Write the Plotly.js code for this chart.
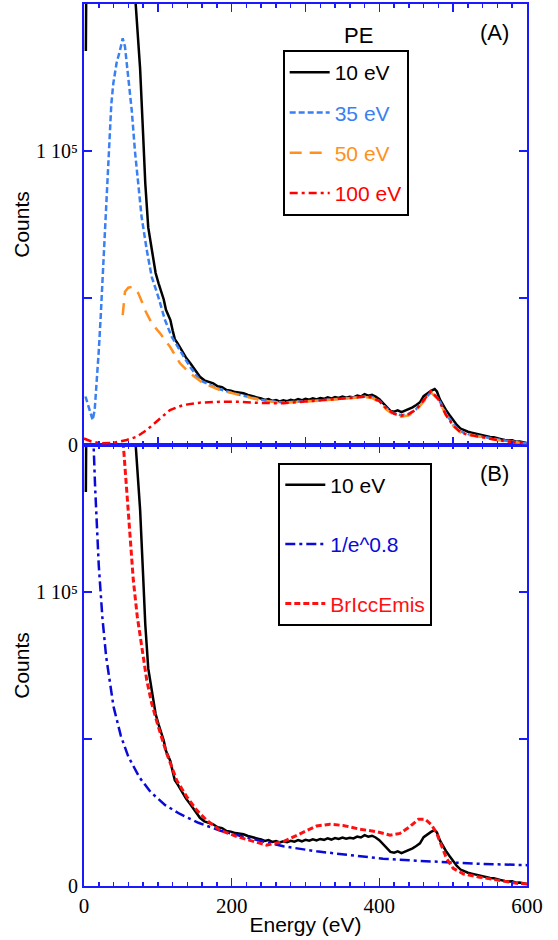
<!DOCTYPE html>
<html>
<head>
<meta charset="utf-8">
<script src="https://cdn.plot.ly/plotly-3.0.1.min.js"></script>
<style>html,body{margin:0;padding:0;background:#fff;}#chart{width:558px;height:940px;}</style>
</head>
<body>
<div id="chart"></div>
<script>
// ---- Data ----
// 10 eV primary energy (shared by panels A and B)
const energy10 = [2.5, 4, 20, 50, 65, 70, 76, 80, 83, 87, 92, 97, 101, 105, 108, 111, 114, 117, 120, 123, 127, 132, 138, 144, 150, 157, 163, 169, 175, 181, 187, 193, 199, 205, 211, 216, 222, 228, 234,
  240, 245, 250, 255, 260, 265, 270, 275, 280, 285, 290, 295, 300, 305, 310, 315, 320, 325, 330, 335, 340, 345, 350, 355, 360, 365, 370, 375, 380, 385, 390, 395,
  400, 405, 410, 415, 420, 425, 430, 435, 440, 445, 450, 455, 460, 465, 470, 475, 478, 482, 486, 490, 495,
  500, 505, 510, 515, 520, 525, 530, 535, 540, 545, 550, 555, 560, 565, 570, 575, 580, 585, 590, 595, 600];
const counts10 = [134000, 600000, 800000, 400000, 175000, 150000, 128000, 106000, 89000, 74000, 66000, 58500, 55000, 51600, 49500, 46000, 44500, 42500, 39000, 36000, 34500, 32300, 29800, 27800, 25500, 23200, 22000, 21500, 21000, 20000, 19700, 18700, 18500, 18000, 17800, 17600, 17000, 16700, 16200,
  15800, 15300, 15600, 15000, 15300, 14800, 15200, 14900, 15400, 15100, 15600, 15200, 15700, 15400, 15900, 15500, 16000, 15700, 16200, 15800, 16300, 16000, 16500, 16100, 16400, 16200, 16800, 16500, 17300, 16800, 17100, 16500,
  15600, 14300, 12800, 11600, 11300, 11800, 11200, 11700, 12300, 12800, 13600, 14500, 16600, 17600, 18400, 19000, 18200, 15500, 13500, 12000, 10200,
  8500, 6800, 5600, 5000, 4500, 4200, 3900, 3500, 3400, 3000, 2700, 2600, 2200, 2000, 1700, 1500, 1600, 1100, 1200, 900, 700];

// 35 eV
const energy35 = [2, 5, 9, 11.7, 14.5, 17.2, 20, 22.6, 25.5, 28.4, 31.3, 34.3, 37, 39.7, 44.2, 48.8, 52.4, 55.5, 60, 64.6, 69, 73.6, 78, 85, 91.7, 100.6, 109.7, 118.8, 130, 143.6, 157, 180, 202, 229,
  240, 250, 260, 270, 280, 290, 300, 310, 320, 330, 340, 350, 360, 370, 380, 390, 400, 410, 420, 430, 440, 450, 460, 470, 480, 490, 500, 510, 520, 530, 540, 550, 560, 570, 580, 590, 600];
const counts35 = [16500, 14000, 10000, 8500, 12000, 21000, 32000, 43600, 58000, 72000, 88000, 106000, 116000, 123000, 130000, 134300, 138300, 135500, 125000, 114000, 100000, 89000, 77600, 66300, 57200, 50400, 42500, 36800, 32300, 26600, 22000, 19300, 17600, 15900,
  15400, 15000, 14700, 14500, 14600, 14700, 14900, 15100, 15200, 15400, 15600, 15800, 15900, 16100, 16500, 16300, 15000, 12400, 10700, 10100, 10600, 12200, 15200, 18000, 15800, 10800, 7000, 4600, 3700, 3200, 2700, 2300, 1900, 1500, 1100, 800, 600];

// 50 eV
const energy50 = [52.4, 55.5, 60, 64.6, 69, 73.6, 78, 82.6, 91.7, 103, 116.5, 130, 143.6, 161.6, 184, 211, 238,
  250, 260, 270, 280, 290, 300, 310, 320, 330, 340, 350, 360, 370, 380, 390, 400, 410, 420, 430, 440, 450, 460, 470, 480, 490, 500, 510, 520, 530, 540, 550, 560, 570, 580, 590, 600];
const counts50 = [44200, 52100, 53500, 53800, 53000, 51600, 49000, 45900, 41400, 38000, 33400, 27800, 24400, 21000, 18700, 17000, 15300,
  14900, 14500, 14400, 14500, 14600, 14800, 15000, 15100, 15300, 15500, 15700, 15800, 16000, 16300, 16000, 14600, 12000, 10200, 9600, 10100, 11800, 14900, 17800, 15400, 10300, 6600, 4300, 3500, 3000, 2500, 2100, 1700, 1300, 1000, 700, 500];

// 100 eV
const energy100 = [0, 10, 21.7, 39.7, 57.8, 71.3, 85, 98.5, 116.5, 134.5, 157, 184, 211, 238,
  250, 260, 270, 280, 290, 300, 310, 320, 330, 340, 350, 360, 370, 380, 390, 400, 410, 420, 430, 440, 450, 460, 470, 480, 490, 500, 510, 520, 530, 540, 550, 560, 570, 580, 590, 600];
const counts100 = [2200, 1200, 600, 700, 1700, 2800, 5100, 7900, 11900, 13600, 14400, 14700, 14700, 14300,
  14200, 14100, 14200, 14400, 14600, 14800, 15000, 15100, 15300, 15500, 15600, 15800, 16000, 16400, 16200, 14900, 12300, 10600, 10000, 10500, 12100, 15300, 18300, 15600, 10300, 6600, 4300, 3500, 3000, 2500, 2100, 1700, 1300, 1000, 700, 500];

// 1/e^0.8 background
const energyPow = [8, 12, 15, 20, 25, 30, 40, 50, 60, 75, 90, 110, 130, 155, 185, 220, 270, 315, 360, 405, 450, 495, 540, 600];
const countsPow = [225000, 157000, 136000, 109000, 91000, 78000, 61000, 51000, 44000, 37000, 32000, 27500, 24500, 21500, 18800, 16500, 13500, 11800, 10500, 9300, 8600, 8000, 7500, 7100];

// BrIccEmis
const energyBr = [45, 53.3, 57.8, 62.3, 66.8, 72.2, 78, 85, 91.7, 100.6, 112, 125.5, 139, 152.6, 166, 184, 207, 229, 247, 270, 292.6, 315, 333, 351, 374, 396, 414.5, 428, 441.5, 453, 462, 471, 477.7, 484.5, 491, 500, 514, 536, 559, 586, 600];
const countsBr = [200000, 150000, 134700, 117700, 104000, 91600, 81400, 70000, 62100, 54200, 45100, 36000, 30400, 25800, 22400, 19000, 16800, 15100, 13900, 15100, 17900, 20400, 21000, 20600, 19300, 18500, 17300, 17900, 20200, 22700, 22700, 20700, 17900, 13400, 9400, 6000, 4100, 3000, 2000, 900, 700];

// Tick positions / labels
const xLabelVals = [0, 200, 400, 600];
const xLabelText = ['0', '200', '400', '600'];
const xMidVals = [100, 300, 500];            // long unlabeled ticks
const xAllMajor = [0, 100, 200, 300, 400, 500, 600];
const yLabelVals = [0, 100000];
const yLabelText = ['0', '1 10\u2075'];

// ---- Styling ----
const AX = '#1a1aff';
const C35 = '#3a80f2', C50 = '#ff9020', C100 = '#ff0000', CPOW = '#0a0ad8', CBR = '#ff1010';
const sans = 'Liberation Sans, Arial, sans-serif';
const serif = 'Liberation Serif, Times New Roman, serif';

function lbl(text, color) { return '<span style="color:' + color + '">' + text + '</span>'; }

const traces = [
  {x: energy10, y: counts10, xaxis: 'x2', yaxis: 'y2', mode: 'lines', name: lbl('10 eV', '#000'), legend: 'legend', legendgroup: 'a1',
   line: {color: '#000', width: 2.5}},
  {x: energy35, y: counts35, xaxis: 'x2', yaxis: 'y2', mode: 'lines', name: lbl('35 eV', C35), legend: 'legend', legendgroup: 'a2',
   line: {color: C35, width: 2.5, dash: '6px,3px'}},
  {x: energy50, y: counts50, xaxis: 'x2', yaxis: 'y2', mode: 'lines', name: lbl('50 eV', C50), legend: 'legend', legendgroup: 'a3',
   line: {color: C50, width: 2.5, dash: '12px,8px'}},
  {x: energy100, y: counts100, xaxis: 'x2', yaxis: 'y2', mode: 'lines', name: lbl('100 eV', C100), legend: 'legend', legendgroup: 'a4',
   line: {color: C100, width: 2.5, dash: '8px,4px,3px,4px'}},
  {x: energy10, y: counts10, xaxis: 'x', yaxis: 'y', mode: 'lines', name: lbl('10 eV', '#000'), legend: 'legend2', legendgroup: 'b1',
   line: {color: '#000', width: 2.5}},
  {x: energyPow, y: countsPow, xaxis: 'x', yaxis: 'y', mode: 'lines', name: lbl('1/e^0.8', CPOW), legend: 'legend2', legendgroup: 'b2',
   line: {color: CPOW, width: 2.5, dash: '10px,4px,3px,4px'}},
  {x: energyBr, y: countsBr, xaxis: 'x', yaxis: 'y', mode: 'lines', name: lbl('BrIccEmis', CBR), legend: 'legend2', legendgroup: 'b3',
   line: {color: CBR, width: 3, dash: '6px,3px'}}
];

const minorX = {tickmode: 'linear', tick0: 0, dtick: 20, ticks: 'inside', ticklen: 4, tickwidth: 1.5, tickcolor: AX, showgrid: false};
const lineStyle = {showline: true, linecolor: AX, linewidth: 2, mirror: 'ticks', showgrid: false, zeroline: false};

const yCommon = Object.assign({}, lineStyle, {
  range: [0, 150000], tickmode: 'array', tickvals: yLabelVals, ticktext: yLabelText,
  ticks: 'inside', ticklen: 8, tickwidth: 1.5, tickcolor: AX,
  minor: {tickmode: 'linear', tick0: 0, dtick: 50000, ticks: 'inside', ticklen: 8, tickwidth: 1.5, tickcolor: AX, showgrid: false},
  tickfont: {family: serif, size: 20, color: '#000'},
  title: {text: 'Counts', font: {family: sans, size: 21, color: '#000'}, standoff: 1}
});

const legendCommon = {
  xanchor: 'left', yanchor: 'top', bgcolor: '#fff', bordercolor: '#000', borderwidth: 2,
  font: {family: sans, size: 21, color: '#000'}, itemwidth: 40, traceorder: 'grouped'
};

const layout = {
  width: 558, height: 940,
  margin: {l: 84, r: 31, t: 4, b: 54},
  paper_bgcolor: '#fff', plot_bgcolor: '#fff',
  font: {family: sans, color: '#000'},
  // bottom panel x axis with labels
  xaxis: Object.assign({}, lineStyle, {anchor: 'y', domain: [0, 1], range: [0, 600],
    tickmode: 'array', tickvals: xLabelVals, ticktext: xLabelText,
    ticks: 'inside', ticklen: 8, tickwidth: 1.5, tickcolor: AX, minor: minorX,
    tickfont: {family: serif, size: 21, color: '#000'},
    title: {text: 'Energy (eV)', font: {family: sans, size: 21, color: '#000'}, standoff: 0}}),
  // top panel x axis, ticks only
  xaxis2: Object.assign({}, lineStyle, {anchor: 'y2', domain: [0, 1], range: [0, 600], matches: 'x',
    tickmode: 'array', tickvals: xAllMajor, showticklabels: false,
    ticks: 'inside', ticklen: 8, tickwidth: 1.5, tickcolor: AX, minor: minorX}),
  // overlay axis giving the bottom panel its unlabeled long ticks at 100, 300, 500
  xaxis3: Object.assign({}, lineStyle, {anchor: 'y', overlaying: 'x', domain: [0, 1], range: [0, 600], matches: 'x',
    tickmode: 'array', tickvals: xMidVals, showticklabels: false,
    ticks: 'inside', ticklen: 8, tickwidth: 1.5, tickcolor: AX}),
  yaxis: Object.assign({}, yCommon, {anchor: 'x', domain: [0, 0.5]}),
  yaxis2: Object.assign({}, yCommon, {anchor: 'x2', domain: [0.5, 1]}),
  showlegend: true,
  legend: Object.assign({}, legendCommon, {x: 0.4485, y: 0.9478, tracegroupgap: 10}),
  legend2: Object.assign({}, legendCommon, {x: 0.4386, y: 0.48, tracegroupgap: 29}),
  annotations: [
    {text: 'PE', xref: 'paper', yref: 'paper', x: (358 - 84) / 443, y: (886 - 35) / 882, showarrow: false,
     xanchor: 'center', yanchor: 'middle', font: {family: sans, size: 22, color: '#000'}},
    {text: '(A)', xref: 'paper', yref: 'paper', x: (494 - 84) / 443, y: (886 - 33) / 882, showarrow: false,
     xanchor: 'center', yanchor: 'middle', font: {family: sans, size: 22, color: '#000'}},
    {text: '(B)', xref: 'paper', yref: 'paper', x: (494 - 84) / 443, y: (886 - 473) / 882, showarrow: false,
     xanchor: 'center', yanchor: 'middle', font: {family: sans, size: 22, color: '#000'}}
  ]
};

Plotly.newPlot('chart', traces, layout, {displayModeBar: false, staticPlot: true});
</script>
</body>
</html>
